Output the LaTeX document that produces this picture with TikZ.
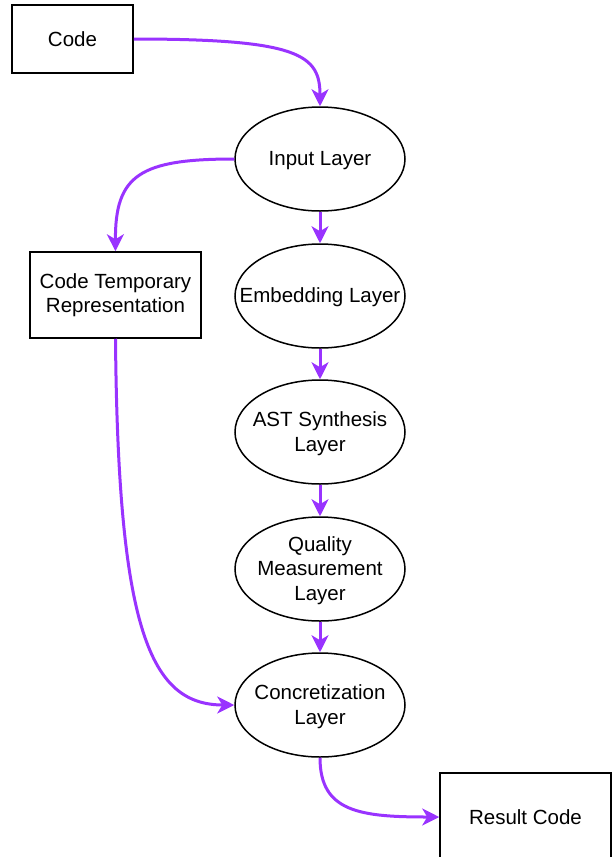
\documentclass[tikz,border=0pt]{standalone}
\usepackage{fontspec}
\setmainfont{Liberation Sans}
\usetikzlibrary{arrows.meta,shapes.geometric}
\definecolor{arrowpurple}{HTML}{9933FF}
\begin{document}
\begin{tikzpicture}[x=1pt,y=-1pt,
  txt/.style={font=\fontsize{20.5}{24.5}\selectfont,align=center},
  box/.style={draw,line width=1.5pt,rectangle,inner sep=0pt,txt},
  ell/.style={draw,line width=1.5pt,ellipse,minimum width=170pt,minimum height=104pt,inner sep=0pt},
  lbl/.style={txt,yshift=-1.5pt},
  conn/.style={draw=arrowpurple,line width=3pt,-{Stealth[length=17pt,width=17pt,inset=5pt]}}]
\useasboundingbox (0,0) rectangle (612,857);
\clip (0,0) rectangle (612,857);
\node[box,minimum width=121pt,minimum height=68pt] (code) at (72.5,39) {Code};
\node[ell,label={[lbl]center:Input Layer}] (inp) at (320,159) {};
\node[ell,label={[lbl]center:Embedding Layer}] (emb) at (320,296) {};
\node[ell,label={[lbl]center:AST Synthesis\\Layer}] (ast) at (320,432) {};
\node[ell,label={[lbl]center:Quality\\Measurement\\Layer}] (qm) at (320,569) {};
\node[ell,label={[lbl]center:Concretization\\Layer}] (conc) at (320,705) {};
\node[box,minimum width=171pt,minimum height=86pt] (ctr) at (115.5,295) {Code Temporary\\Representation};
\node[box,minimum width=171pt,minimum height=88pt] (res) at (525.5,817) {Result Code};
\draw[conn] (code.east) .. controls (300,39) and (320,55) .. (inp.north);
\draw[conn] (inp.west) .. controls (140,159) and (115,175) .. (ctr.north);
\draw[conn] (inp.south) -- (emb.north);
\draw[conn] (emb.south) -- (ast.north);
\draw[conn] (ast.south) -- (qm.north);
\draw[conn] (qm.south) -- (conc.north);
\draw[conn] (ctr.south) .. controls (118,630) and (150,705) .. (conc.west);
\draw[conn] (conc.south) .. controls (320,812) and (360,817) .. (res.west);
\end{tikzpicture}
\end{document}
